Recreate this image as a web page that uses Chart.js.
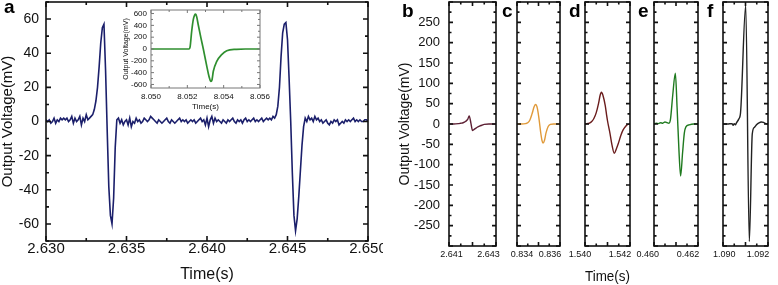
<!DOCTYPE html>
<html>
<head>
<meta charset="utf-8">
<script src="https://cdn.jsdelivr.net/npm/chart.js@4.4.1/dist/chart.umd.min.js"></script>
<style>
  html, body { margin: 0; padding: 0; background: #fff; }
  body { width: 778px; height: 285px; position: relative; overflow: hidden; }
  canvas { position: absolute; top: 0; }
</style>
</head>
<body>
<canvas id="chartA" width="383" height="285" style="left:0px"></canvas>
<canvas id="chartInset" width="160" height="114" style="left:118px"></canvas>
<canvas id="chartB" width="124" height="285" style="left:390px"></canvas>
<canvas id="chartC" width="79" height="285" style="left:499px"></canvas>
<canvas id="chartD" width="81" height="285" style="left:567px"></canvas>
<canvas id="chartE" width="80" height="285" style="left:636px"></canvas>
<canvas id="chartF" width="81" height="285" style="left:705px"></canvas>
<script>
// panel a: two spikes on a noisy baseline
const mainTime = [
  2.6300, 2.6301, 2.6302, 2.6303, 2.6304, 2.6305, 2.6306, 2.6307, 2.6308, 2.6309,
  2.6310, 2.6311, 2.6312, 2.6313, 2.6314, 2.6315, 2.6316, 2.6317, 2.6318, 2.6319,
  2.6320, 2.6321, 2.6322, 2.6323, 2.6324, 2.6325, 2.6326, 2.6327, 2.6328, 2.6329,
  2.6330, 2.6331, 2.6332, 2.6333, 2.6334, 2.6335, 2.6336, 2.6337, 2.6338, 2.6339,
  2.6340, 2.6341, 2.6342, 2.6343, 2.6344, 2.6345, 2.6346, 2.6347, 2.6348, 2.6349,
  2.6350, 2.6351, 2.6352, 2.6353, 2.6354, 2.6355, 2.6356, 2.6357, 2.6358, 2.6359,
  2.6360, 2.6361, 2.6362, 2.6363, 2.6364, 2.6365, 2.6366, 2.6367, 2.6368, 2.6369,
  2.6370, 2.6371, 2.6372, 2.6373, 2.6374, 2.6375, 2.6376, 2.6377, 2.6378, 2.6379,
  2.6380, 2.6381, 2.6382, 2.6383, 2.6384, 2.6385, 2.6386, 2.6387, 2.6388, 2.6389,
  2.6390, 2.6391, 2.6392, 2.6393, 2.6394, 2.6395, 2.6396, 2.6397, 2.6398, 2.6399,
  2.6400, 2.6401, 2.6402, 2.6403, 2.6404, 2.6405, 2.6406, 2.6407, 2.6408, 2.6409,
  2.6410, 2.6411, 2.6412, 2.6413, 2.6414, 2.6415, 2.6416, 2.6417, 2.6418, 2.6419,
  2.6420, 2.6421, 2.6422, 2.6423, 2.6424, 2.6425, 2.6426, 2.6427, 2.6428, 2.6429,
  2.6430, 2.6431, 2.6432, 2.6433, 2.6434, 2.6435, 2.6436, 2.6437, 2.6438, 2.6439,
  2.6440, 2.6441, 2.6442, 2.6443, 2.6444, 2.6445, 2.6446, 2.6447, 2.6448, 2.6449,
  2.6450, 2.6451, 2.6452, 2.6453, 2.6454, 2.6455, 2.6456, 2.6457, 2.6458, 2.6459,
  2.6460, 2.6461, 2.6462, 2.6463, 2.6464, 2.6465, 2.6466, 2.6467, 2.6468, 2.6469,
  2.6470, 2.6471, 2.6472, 2.6473, 2.6474, 2.6475, 2.6476, 2.6477, 2.6478, 2.6479,
  2.6480, 2.6481, 2.6482, 2.6483, 2.6484, 2.6485, 2.6486, 2.6487, 2.6488, 2.6489,
  2.6490, 2.6491, 2.6492, 2.6493, 2.6494, 2.6495, 2.6496, 2.6497, 2.6498, 2.6499,
  2.6500
];
const mainVoltage = [
  1, 0, 1, -1, 0, 2, -1, 1, 0, 2,
  1, 2, 1, 2, 0, 1, 3, -1, 2, 0,
  1, 3, -2, 2, 0, 4, 1, 2, 3, 4,
  7, 12, 20, 32, 46, 55, 57, 30, -5, -38,
  -55, -60, -45, -15, 1, 2, -1, 1, -2, 0,
  1, -2, 2, -3, 0, -1, 2, 0, 1, -1,
  0, 2, 1, 0, 1, 3, 2, 1, 0, -1,
  1, 0, -1, 0, 1, 2, 0, -1, 1, 0,
  -1, 0, 1, 2, 0, 1, 0, 1, -1, 0,
  1, 0, 1, -1, 0, 1, 2, 0, 1, -2,
  2, -3, 1, 3, -1, 2, 0, 1, 0, -1,
  1, 0, -1, 1, 0, 1, 2, 0, -1, 1,
  0, 1, -1, 1, 2, 0, 1, 0, 1, 2,
  0, 1, 0, 1, 2, 0, 1, 2, 1, 2,
  1, 3, 2, 4, 9, 20, 38, 52, 57, 58,
  48, 25, 0, -30, -55, -64, -57, -44, -29, -14,
  -3, 2, 0, 3, 1, 2, 0, 3, 1, 2,
  0, 1, -1, 0, 1, -1, -2, 0, -1, 1,
  0, 1, -2, -1, 0, -1, 1, 0, 1, 0,
  1, 2, 0, 1, 0, 1, 0, 0, 1, 1,
  0
];
const mainXTicks = [2.630, 2.635, 2.640, 2.645, 2.650];
const mainYTicks = [-60, -40, -20, 0, 20, 40, 60];

// inset of panel a
const insetTime = [8.0500, 8.0510, 8.0521, 8.05215, 8.05224, 8.05233, 8.05240, 8.05246, 8.05252, 8.0526,
  8.05275, 8.05288, 8.05307, 8.05319, 8.0533, 8.05336, 8.05343, 8.05362, 8.05389, 8.05417, 8.0547, 8.0552, 8.0560];
const insetVoltage = [0, 0, 0, 30, 300, 500, 575, 590, 540, 410,
  185, 0, -290, -460, -550, -520, -377, -208, -96, -29, -5, 0, 0];
const insetXTicks = [8.050, 8.052, 8.054, 8.056];
const insetYTicks = [-600, -400, -200, 0, 200, 400, 600];

// panels b-f
const bTime = [2.6410, 2.6412, 2.6414, 2.6415, 2.6416, 2.6417, 2.6418, 2.64186, 2.64193, 2.64200, 2.6421, 2.6422, 2.6423, 2.6424, 2.6425, 2.6427, 2.6430];
const bVoltage = [0, 0, 1, 2, 3, 6, 12, 20, 3, -16, -12, -8, -5, -3, -1, 0, 0];
const cTime = [0.8340, 0.8342, 0.8344, 0.8345, 0.8346, 0.8347, 0.8348, 0.83487, 0.83495, 0.83503, 0.8351, 0.83516, 0.83521, 0.83528, 0.83535, 0.83545, 0.83555, 0.8357, 0.8360];
const cVoltage = [0, 0, 1, 3, 10, 25, 43, 48, 38, 10, -20, -40, -47, -40, -22, -6, -1, 0, 0];
const dTime = [1.5400, 1.5402, 1.5403, 1.5404, 1.5405, 1.5406, 1.54067, 1.54073, 1.5408, 1.5409, 1.54096, 1.5410, 1.54111, 1.5412, 1.5413, 1.5414, 1.54148, 1.5416, 1.5417, 1.5418, 1.5419, 1.5420];
const dVoltage = [0, 2, 6, 14, 28, 50, 70, 78, 70, 45, 22, 8, -23, -52, -72, -60, -48, -27, -14, -6, -1, 0];
const eTime = [0.4600, 0.4601, 0.4602, 0.4603, 0.4604, 0.4605, 0.4606, 0.46068, 0.46075, 0.46085, 0.46097, 0.46105, 0.46113, 0.46121, 0.4613, 0.46138, 0.46145, 0.4616, 0.4618, 0.4620];
const eVoltage = [0, 2, 1, 3, 2, 5, 3, 2, 12, 70, 125, 40, -60, -128, -70, -22, -7, -2, 0, 0];
const fTime = [1.0900, 1.0902, 1.0904, 1.09045, 1.0905, 1.09055, 1.0906, 1.0907, 1.09078, 1.09101, 1.09117, 1.0913, 1.0914, 1.0915, 1.0916, 1.0917, 1.0918, 1.0919, 1.0920];
const fVoltage = [0, 0, 1, -3, 1, -2, 3, 12, 28, 292, -289, -25, -8, -1, 3, 5, 4, 1, 0];
const smallYTicks = [-250, -200, -150, -100, -50, 0, 50, 100, 150, 200, 250];

Chart.defaults.font.family = '"Liberation Sans", Arial, sans-serif';
Chart.defaults.color = '#111';
Chart.defaults.animation = false;

// box with inward ticks on all four sides (Origin style) + panel letter
const frameTicks = {
  id: 'frameTicks',
  beforeDraw(chart, args, o) {
    if (!o.fill) return;
    const a = chart.chartArea;
    chart.ctx.save();
    chart.ctx.fillStyle = o.fill;
    chart.ctx.fillRect(a.left, a.top, a.width, a.height);
    chart.ctx.restore();
  },
  afterDraw(chart, args, o) {
    const {ctx, chartArea: a, scales} = chart;
    const marks = (scale, major, minor) => {
      const out = [];
      const k0 = Math.ceil(scale.min / minor - 1e-6);
      const k1 = Math.floor(scale.max / minor + 1e-6);
      for (let k = k0; k <= k1; k++) {
        const r = k * minor / major;
        out.push({ p: scale.getPixelForValue(k * minor), len: Math.abs(r - Math.round(r)) < 1e-6 ? o.major : o.minor });
      }
      return out;
    };
    ctx.save();
    ctx.strokeStyle = o.color;
    ctx.lineWidth = o.width;
    ctx.beginPath();
    marks(scales.x, o.xMajor, o.xMinor).forEach(m => {
      ctx.moveTo(m.p, a.bottom); ctx.lineTo(m.p, a.bottom - m.len);
      ctx.moveTo(m.p, a.top); ctx.lineTo(m.p, a.top + m.len);
    });
    marks(scales.y, o.yMajor, o.yMinor).forEach(m => {
      ctx.moveTo(a.left, m.p); ctx.lineTo(a.left + m.len, m.p);
      ctx.moveTo(a.right, m.p); ctx.lineTo(a.right - m.len, m.p);
    });
    ctx.stroke();
    ctx.strokeRect(a.left, a.top, a.width, a.height);
    if (o.letter) {
      ctx.fillStyle = '#000';
      ctx.font = 'bold 19px "Liberation Sans", Arial, sans-serif';
      ctx.textBaseline = 'alphabetic';
      ctx.fillText(o.letter, o.lx, o.ly);
    }
    ctx.restore();
  }
};

const fixTicks = list => axis => { axis.ticks = list.map(v => ({ value: v })); };
const fixSize = (w, h) => s => {
  if (w != null) s.width = w;
  if (h != null) s.height = h;
  s.paddingLeft = 0; s.paddingRight = 0; s.paddingTop = 0; s.paddingBottom = 0;
};
const toXY = (t, v) => t.map((x, i) => ({ x: x, y: v[i] }));
// nudge a centred label sideways by padding it with spaces
const nudge = (text, shift, size) => {
  const pad = ' '.repeat(Math.round(2 * Math.abs(shift) / (0.278 * size)));
  return shift > 0 ? pad + text : text + pad;
};

// panel a
new Chart(document.getElementById('chartA'), {
  type: 'line',
  data: {
    datasets: [{
      data: toXY(mainTime, mainVoltage),
      borderColor: '#1b1f6b',
      borderWidth: 1.6,
      pointRadius: 0,
      tension: 0
    }]
  },
  options: {
    responsive: false,
    layout: { padding: { top: 2, right: 15, left: 0, bottom: 0 } },
    plugins: {
      legend: { display: false },
      tooltip: { enabled: false },
      frameTicks: { color: '#111', width: 1.6, major: 5, minor: 3, xMajor: 0.005, xMinor: 0.0025, yMajor: 20, yMinor: 10, letter: 'a', lx: 4, ly: 13 }
    },
    scales: {
      x: {
        type: 'linear', min: 2.630, max: 2.650,
        afterBuildTicks: fixTicks(mainXTicks),
        afterFit: fixSize(null, 44),
        grid: { display: false, drawTicks: false },
        border: { display: false },
        ticks: { autoSkip: false, maxRotation: 0, padding: 0, font: { size: 15, lineHeight: 1 }, callback: v => v.toFixed(3) },
        title: { display: true, text: 'Time(s)', font: { size: 16, lineHeight: 1 }, padding: { top: 0, bottom: 2 }, color: '#111' }
      },
      y: {
        min: -70, max: 70,
        afterBuildTicks: fixTicks(mainYTicks),
        afterFit: fixSize(46, null),
        grid: { display: false, drawTicks: false },
        border: { display: false },
        ticks: { autoSkip: false, padding: 7, font: { size: 14, lineHeight: 1 }, callback: v => String(v) },
        title: { display: true, text: 'Output Voltage(mV)', font: { size: 15, lineHeight: 1 }, padding: { top: 0, bottom: 0 }, color: '#111' }
      }
    }
  },
  plugins: [frameTicks]
});

// inset
new Chart(document.getElementById('chartInset'), {
  type: 'line',
  data: {
    datasets: [{
      data: toXY(insetTime, insetVoltage),
      borderColor: '#2f8f2f',
      borderWidth: 1.7,
      pointRadius: 0,
      cubicInterpolationMode: 'monotone'
    }]
  },
  options: {
    responsive: false,
    layout: { padding: { top: 10, right: 18, left: 0, bottom: 0 } },
    plugins: {
      legend: { display: false },
      tooltip: { enabled: false },
      frameTicks: { fill: '#fff', color: '#777', width: 1, major: 3, minor: 2, xMajor: 0.002, xMinor: 0.001, yMajor: 200, yMinor: 100 }
    },
    scales: {
      x: {
        type: 'linear', min: 8.050, max: 8.056,
        afterBuildTicks: fixTicks(insetXTicks),
        afterFit: fixSize(null, 26),
        grid: { display: false, drawTicks: false },
        border: { display: false },
        ticks: { autoSkip: false, maxRotation: 0, padding: 5, font: { size: 8, lineHeight: 1 }, callback: v => v.toFixed(3) },
        title: { display: true, text: 'Time(s)', font: { size: 8, lineHeight: 1 }, padding: { top: 0, bottom: 3 }, color: '#111' }
      },
      y: {
        min: -660, max: 660,
        afterBuildTicks: fixTicks(insetYTicks),
        afterFit: fixSize(33, null),
        grid: { display: false, drawTicks: false },
        border: { display: false },
        ticks: { autoSkip: false, padding: 4, font: { size: 8, lineHeight: 1 }, callback: v => String(v) },
        title: { display: true, text: 'Output Voltage(mV)', font: { size: 7, lineHeight: 1 }, padding: { top: 5, bottom: 0 }, color: '#111' }
      }
    }
  },
  plugins: [frameTicks]
});

// panels b-f
function smallPanel(id, time, volt, color, xMin, xMax, letter, lx, shifts, withY, withTitle) {
  new Chart(document.getElementById(id), {
    type: 'line',
    data: {
      datasets: [{
        data: toXY(time, volt),
        borderColor: color,
        borderWidth: 1.4,
        pointRadius: 0,
        cubicInterpolationMode: 'monotone'
      }]
    },
    options: {
      responsive: false,
      layout: { padding: { top: 2, right: 18, left: withY ? 0 : 18, bottom: 0 } },
      plugins: {
        legend: { display: false },
        tooltip: { enabled: false },
        frameTicks: { color: '#111', width: 1.6, major: 4, minor: 2.5, xMajor: 0.001, xMinor: 0.0005, yMajor: 50, yMinor: 25, letter: letter, lx: lx, ly: 17 }
      },
      scales: {
        x: {
          type: 'linear', min: xMin, max: xMax,
          afterBuildTicks: fixTicks([xMin, xMax]),
          afterFit: fixSize(null, 39),
          grid: { display: false, drawTicks: false },
          border: { display: false },
          ticks: { autoSkip: false, maxRotation: 0, padding: 4, font: { size: 9, lineHeight: 1 }, callback: (v, i) => nudge(v.toFixed(3), shifts[i], 9) },
          title: { display: withTitle, text: 'Time(s)', font: { size: 14, lineHeight: 1 }, padding: { top: 0, bottom: 1 }, color: '#111' }
        },
        y: {
          display: withY,
          min: -300, max: 300,
          afterBuildTicks: fixTicks(smallYTicks),
          afterFit: fixSize(withY ? 59 : 0, null),
          grid: { display: false, drawTicks: false },
          border: { display: false },
          ticks: { autoSkip: false, padding: 9, font: { size: 13, lineHeight: 1 }, callback: v => String(v) },
          title: { display: true, text: 'Output Voltage(mV)', font: { size: 14, lineHeight: 1 }, padding: { top: 8, bottom: 0 }, color: '#111' }
        }
      }
    },
    plugins: [frameTicks]
  });
}

smallPanel('chartB', bTime, bVoltage, '#5c1f33', 2.641, 2.643, 'b', 12, [3, -7], true, false);
smallPanel('chartC', cTime, cVoltage, '#e09a3a', 0.834, 0.836, 'c', 3, [5, -10], false, false);
smallPanel('chartD', dTime, dVoltage, '#6a1c1c', 1.540, 1.542, 'd', 2, [-5, -10], false, true);
smallPanel('chartE', eTime, eVoltage, '#1f7a1f', 0.460, 0.462, 'e', 2, [-6, -10], false, false);
smallPanel('chartF', fTime, fVoltage, '#222222', 1.090, 1.092, 'f', 2, [1, -10], false, false);
</script>
</body>
</html>
